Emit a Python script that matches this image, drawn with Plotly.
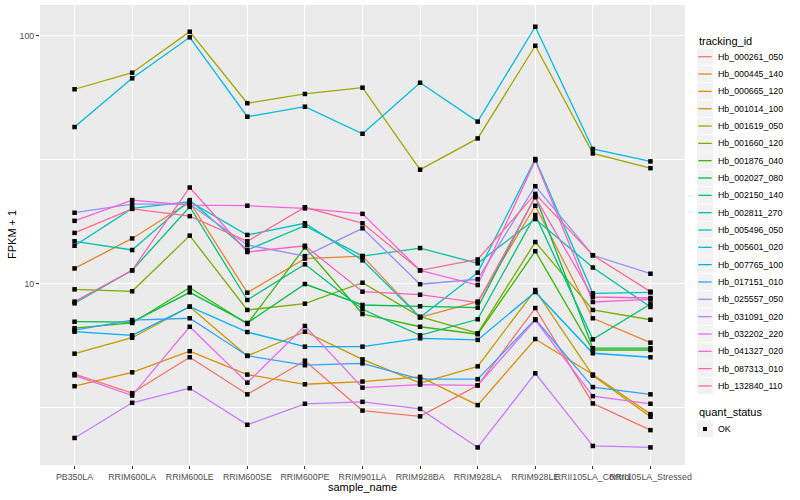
import plotly.graph_objects as go

# ---------------- data ----------------
samples = ["PB350LA", "RRIM600LA", "RRIM600LE", "RRIM600SE", "RRIM600PE",
           "RRIM901LA", "RRIM928BA", "RRIM928LA", "RRIM928LE",
           "RRII105LA_Control", "RRII105LA_Stressed"]

tracking_ids = ["Hb_000261_050", "Hb_000445_140", "Hb_000665_120", "Hb_001014_100",
                "Hb_001619_050", "Hb_001660_120", "Hb_001876_040", "Hb_002027_080",
                "Hb_002150_140", "Hb_002811_270", "Hb_005496_050", "Hb_005601_020",
                "Hb_007765_100", "Hb_017151_010", "Hb_025557_050", "Hb_031091_020",
                "Hb_032202_220", "Hb_041327_020", "Hb_087313_010", "Hb_132840_110"]

hb_000261_050 = [4.31, 3.61, 5.04, 3.57, 4.88, 3.07, 2.91, 3.88, 7.96, 3.28, 2.56]
hb_000445_140 = [11.5, 15.2, 21.3, 9.18, 12.6, 12.9, 7.30, 8.45, 20.6, 7.24, 5.77]
hb_000665_120 = [3.85, 4.38, 5.33, 4.29, 3.92, 4.02, 4.20, 3.23, 5.97, 4.29, 2.97]
hb_001014_100 = [5.21, 6.04, 8.06, 5.10, 6.39, 4.94, 3.96, 4.63, 9.41, 4.25, 2.90]
hb_001619_050 = [60.8, 70.9, 103.8, 53.4, 58.2, 61.7, 28.8, 38.5, 91.1, 33.5, 29.2]
hb_001660_120 = [9.47, 9.30, 15.6, 7.82, 8.29, 10.07, 7.35, 6.30, 14.7, 7.82, 7.14]
hb_001876_040 = [6.60, 6.93, 9.62, 6.87, 14.0, 7.53, 6.69, 6.24, 13.5, 5.39, 5.39]
hb_002027_080 = [7.01, 6.99, 9.21, 6.93, 9.95, 8.19, 8.09, 7.99, 22.5, 5.48, 5.48]
hb_002150_140 = [8.32, 11.3, 20.4, 8.58, 11.95, 7.87, 6.18, 7.17, 18.9, 5.95, 8.27]
hb_002811_270 = [14.8, 13.65, 21.7, 13.65, 17.1, 12.9, 13.9, 12.06, 18.2, 11.6, 8.04]
hb_005496_050 = [14.2, 20.1, 21.4, 15.7, 17.5, 12.4, 7.30, 11.06, 31.8, 9.13, 9.20]
hb_005601_020 = [42.8, 67.3, 98.5, 47.1, 51.7, 40.2, 64.6, 45.0, 108.7, 34.9, 31.1]
hb_007765_100 = [6.39, 6.18, 8.06, 6.37, 5.56, 5.56, 6.01, 5.92, 9.24, 5.23, 5.04]
hb_017151_010 = [6.49, 7.12, 7.24, 5.11, 4.68, 4.76, 4.11, 4.11, 7.17, 3.82, 3.57]
hb_025557_050 = [19.3, 20.9, 20.9, 14.3, 12.9, 16.7, 9.93, 10.4, 24.7, 13.0, 10.95]
hb_031091_020 = [2.38, 3.30, 3.78, 2.69, 3.27, 3.33, 3.12, 2.18, 4.34, 2.21, 2.18]
hb_032202_220 = [4.26, 3.53, 6.69, 3.98, 6.74, 3.80, 3.91, 3.88, 7.12, 3.51, 3.27]
hb_041327_020 = [17.9, 21.7, 20.7, 20.6, 20.1, 19.1, 11.3, 9.86, 31.4, 8.42, 8.63]
hb_087313_010 = [8.45, 11.3, 24.4, 13.4, 14.2, 9.27, 9.01, 8.37, 22.3, 8.82, 8.74]
hb_132840_110 = [16.0, 20.0, 18.7, 14.8, 20.3, 17.5, 11.3, 12.5, 23.0, 13.0, 9.27]

series_values = [hb_000261_050, hb_000445_140, hb_000665_120, hb_001014_100,
                 hb_001619_050, hb_001660_120, hb_001876_040, hb_002027_080,
                 hb_002150_140, hb_002811_270, hb_005496_050, hb_005601_020,
                 hb_007765_100, hb_017151_010, hb_025557_050, hb_031091_020,
                 hb_032202_220, hb_041327_020, hb_087313_010, hb_132840_110]

quant_status = ["OK"]
y_ticks = [10, 100]
y_tick_labels = ["10", "100"]

# ---------------- style ----------------
colors = ["#F8766D", "#EA8331", "#D89000", "#C09B00", "#A3A500", "#7CAE00",
          "#39B600", "#00BB4E", "#00BF7D", "#00C1A3", "#00BFC4", "#00BAE0",
          "#00B0F6", "#35A2FF", "#9590FF", "#C77CFF", "#E76BF3", "#FA62DB",
          "#FF62BC", "#FF6C91"]
FONT = "Liberation Sans, Arial, Helvetica, sans-serif"
W, H = 800, 500
ML, MR, MT, MB = 40, 115, 5, 35
PW, PH = W - ML - MR, H - MT - MB


def px(x):
    return (x - ML) / PW


def py(y):
    return (H - MB - y) / PH


fig = go.Figure()

for name, vals, col in zip(tracking_ids, series_values, colors):
    fig.add_trace(go.Scatter(x=samples, y=vals, mode="lines", name=name,
                             line=dict(color=col, width=1.3), showlegend=False))

all_x, all_y = [], []
for vals in series_values:
    all_x.extend(samples)
    all_y.extend(vals)
fig.add_trace(go.Scatter(x=all_x, y=all_y, mode="markers", name=quant_status[0],
                         marker=dict(color="black", symbol="square", size=4.5,
                                     line=dict(width=0)),
                         showlegend=False))

shapes = []
annotations = []

# legend: tracking_id
annotations.append(dict(text="tracking_id", x=px(696.5), y=py(40.5), xref="paper", yref="paper",
                        xanchor="left", yanchor="middle", showarrow=False,
                        font=dict(family=FONT, size=11, color="black")))
for i, (name, col) in enumerate(zip(tracking_ids, colors)):
    yc = 56.7 + i * 17.33
    shapes.append(dict(type="rect", xref="paper", yref="paper",
                       x0=px(697), x1=px(713), y0=py(yc + 8.2), y1=py(yc - 8.2),
                       fillcolor="#F2F2F2", line=dict(width=0), layer="above"))
    shapes.append(dict(type="line", xref="paper", yref="paper",
                       x0=px(698.3), x1=px(711.7), y0=py(yc), y1=py(yc),
                       line=dict(color=col, width=1.3), layer="above"))
    annotations.append(dict(text=name, x=px(716.5), y=py(yc), xref="paper", yref="paper",
                            xanchor="left", yanchor="middle", showarrow=False,
                            font=dict(family=FONT, size=8.8, color="black")))

# legend: quant_status
annotations.append(dict(text="quant_status", x=px(696.5), y=py(412.3), xref="paper", yref="paper",
                        xanchor="left", yanchor="middle", showarrow=False,
                        font=dict(family=FONT, size=11, color="black")))
yc = 429
shapes.append(dict(type="rect", xref="paper", yref="paper",
                   x0=px(697), x1=px(713), y0=py(yc + 8.2), y1=py(yc - 8.2),
                   fillcolor="#F2F2F2", line=dict(width=0), layer="above"))
shapes.append(dict(type="rect", xref="paper", yref="paper",
                   x0=px(703), x1=px(707), y0=py(yc + 2), y1=py(yc - 2),
                   fillcolor="black", line=dict(width=0), layer="above"))
annotations.append(dict(text=quant_status[0], x=px(716.5), y=py(yc), xref="paper", yref="paper",
                        xanchor="left", yanchor="middle", showarrow=False,
                        font=dict(family=FONT, size=8.8, color="black")))

# axis titles
annotations.append(dict(text="sample_name", x=0.5, y=py(487), xref="paper", yref="paper",
                        xanchor="center", yanchor="middle", showarrow=False,
                        font=dict(family=FONT, size=11, color="black")))
annotations.append(dict(text="FPKM + 1", x=px(12), y=0.5, xref="paper", yref="paper",
                        xanchor="center", yanchor="middle", showarrow=False, textangle=-90,
                        font=dict(family=FONT, size=11, color="black")))

fig.update_layout(
    width=W, height=H,
    margin=dict(l=ML, r=MR, t=MT, b=MB, pad=0),
    paper_bgcolor="white", plot_bgcolor="#EBEBEB",
    font=dict(family=FONT, size=9, color="#4D4D4D"),
    showlegend=False,
    shapes=shapes, annotations=annotations,
    xaxis=dict(type="category", categoryorder="array", categoryarray=samples,
               range=[-0.6, len(samples) - 0.4],
               showgrid=True, gridcolor="white", gridwidth=1.3,
               showline=False, zeroline=False,
               ticks="outside", ticklen=3, tickwidth=1, tickcolor="#333333",
               tickangle=0, tickfont=dict(family=FONT, size=8.8, color="#4D4D4D")),
    yaxis=dict(type="log", range=[0.2675, 2.1239],
               tickmode="array", tickvals=y_ticks, ticktext=y_tick_labels,
               showgrid=True, gridcolor="white", gridwidth=1.3,
               minor=dict(tickmode="array", tickvals=[3.1623, 31.623], showgrid=True,
                          gridcolor="white", gridwidth=0.65, ticks=""),
               showline=False, zeroline=False,
               ticks="outside", ticklen=3, tickwidth=1, tickcolor="#333333",
               tickfont=dict(family=FONT, size=8.8, color="#4D4D4D")),
)

fig.write_html("out.html", config={"displayModeBar": False},
               post_script="document.body.style.margin='0px';document.body.style.padding='0px';")
